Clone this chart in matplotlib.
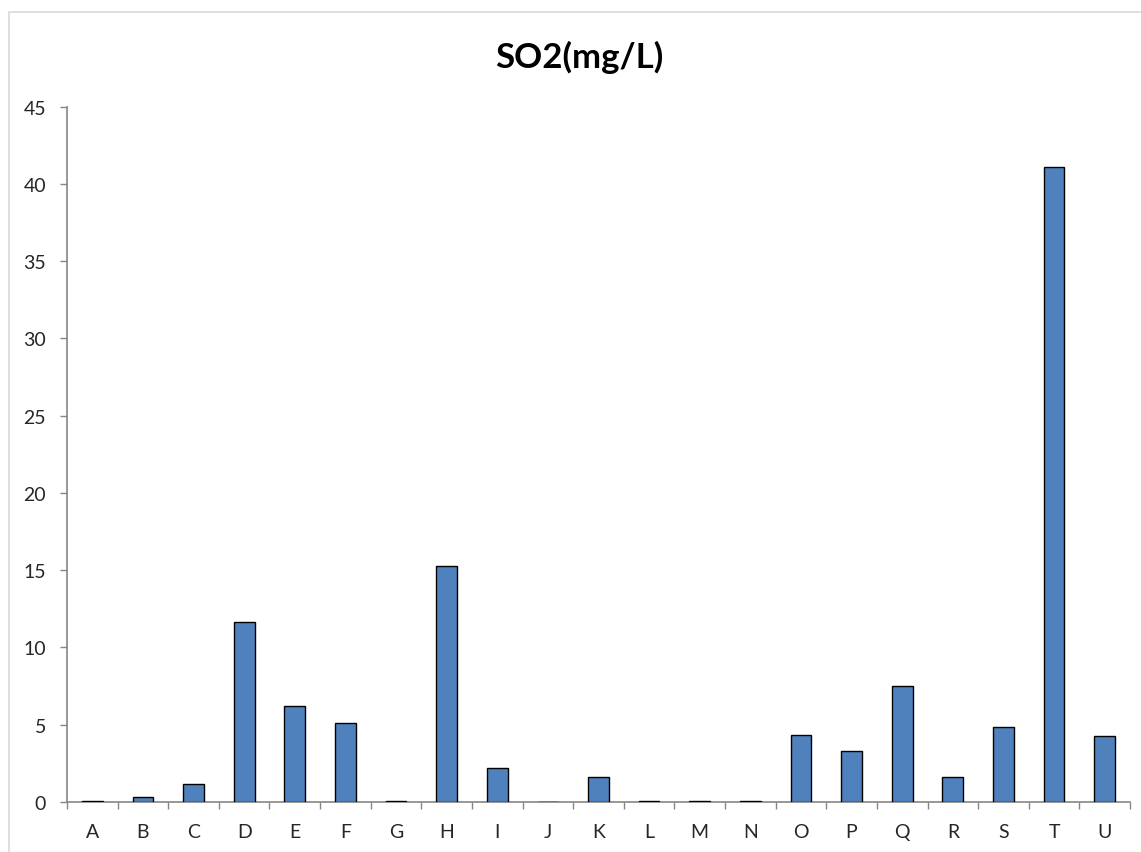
import matplotlib
matplotlib.use("Agg")
import matplotlib.pyplot as plt
from matplotlib.patches import Rectangle

plt.rcParams['font.family'] = ['Lato', 'DejaVu Sans']

# SO2 concentration per sampling site
sites = list("ABCDEFGHIJKLMNOPQRSTU")
so2 = [0.08, 0.32, 1.14, 11.63, 6.24, 5.14, 0.08, 15.27, 2.19, 0.0,
       1.62, 0.08, 0.08, 0.08, 4.35, 3.31, 7.49, 1.62, 4.84, 41.12, 4.28]
title = "SO2(mg/L)"
yticks = [0, 5, 10, 15, 20, 25, 30, 35, 40, 45]

W, H = 1141, 853
fig = plt.figure(figsize=(W / 100, H / 100), dpi=100)
fig.patch.set_facecolor("white")

# light chart-area border
fig.patches.append(Rectangle((9 / W, -0.05), 1.2, 1 - 13 / H + 0.05,
                             transform=fig.transFigure, fill=False,
                             edgecolor="#D9D9D9", linewidth=1.2))

ax = fig.add_axes([67 / W, 1 - 803 / H, (1130 - 67) / W, (803 - 107.7) / H])

x = list(range(len(sites)))
ax.bar(x, so2, width=0.41, color="#4F81BD", edgecolor="black", linewidth=1.0,
       zorder=3)

ax.set_xlim(-0.5, len(sites) - 0.5)
ax.set_ylim(0, 45)
ax.set_yticks(yticks)

ax.set_xticks(x)
ax.set_xticklabels(sites)
ax.set_xticks([i - 0.5 for i in range(len(sites) + 1)], minor=True)

axis_color = "#868686"
text_color = "#262626"
for side in ("top", "right"):
    ax.spines[side].set_visible(False)
for side in ("left", "bottom"):
    ax.spines[side].set_color(axis_color)
    ax.spines[side].set_linewidth(1.2)

ax.tick_params(axis="y", which="major", direction="out", length=5,
               width=1.0, color=axis_color, pad=10, labelsize=14,
               labelcolor=text_color)
ax.tick_params(axis="x", which="major", length=0, pad=15, labelsize=14,
               labelcolor=text_color)
ax.tick_params(axis="x", which="minor", direction="out", length=5,
               width=1.0, color=axis_color)

fig.text(579 / W, 1 - 57 / H, title, ha="center", va="center",
         fontsize=25, fontweight="bold", color="black")

fig.savefig("out.png", dpi=100)
